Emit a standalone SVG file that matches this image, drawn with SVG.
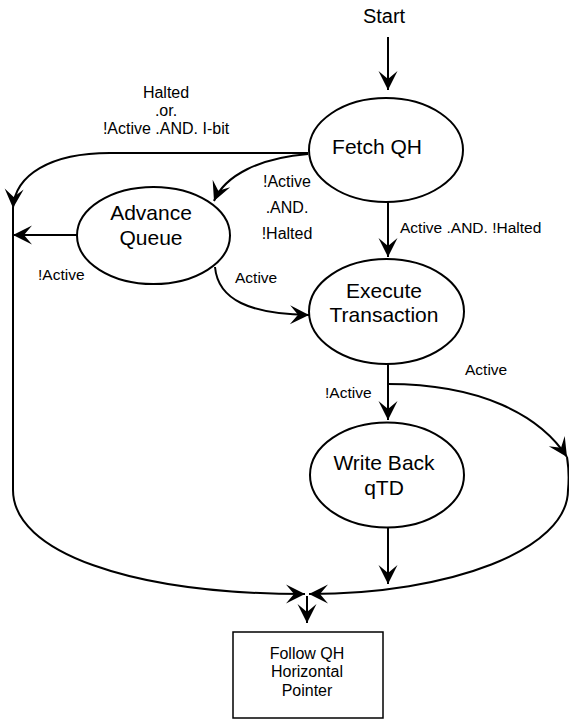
<svg xmlns="http://www.w3.org/2000/svg" width="569" height="719" viewBox="0 0 569 719">
<defs>
<style>
.node{fill:#fff;stroke:#000;stroke-width:2}
.box{fill:#fff;stroke:#000;stroke-width:1.5}
.edge{fill:none;stroke:#000;stroke-width:2}
.nt{font-family:"Liberation Sans",Arial,sans-serif;font-size:21px;fill:#000;text-anchor:middle}
.lt{font-family:"Liberation Sans",Arial,sans-serif;font-size:15.5px;fill:#000}
.bt{font-family:"Liberation Sans",Arial,sans-serif;font-size:16px;fill:#000;text-anchor:middle}
.st{font-family:"Liberation Sans",Arial,sans-serif;font-size:20px;fill:#000;text-anchor:middle}
</style>
<marker id="ah" viewBox="-20 -11 22 22" refX="0" refY="0" markerWidth="22" markerHeight="22" markerUnits="userSpaceOnUse" orient="auto">
<path d="M0,0 L-19,-9.5 L-11,0 L-19,9.5 Z" fill="#000"/>
</marker>
</defs>
<rect width="569" height="719" fill="#fff"/>

<g id="connectors">
<path class="edge" d="M388,37 L388,90" marker-end="url(#ah)"/>
<path class="edge" d="M388,202 L388,257" marker-end="url(#ah)"/>
<path class="edge" d="M308,153 L110,153 C50,153 15,175 13,208" marker-end="url(#ah)"/>
<path class="edge" d="M308,154 C260,158 225,175 214,201" marker-end="url(#ah)"/>
<path class="edge" d="M77,235 L13,235" marker-end="url(#ah)"/>
<path class="edge" d="M13,208 L13,490 C13,552 130,594 305,594" marker-end="url(#ah)"/>
<path class="edge" d="M215,267 C218,300 250,314 309,315" marker-end="url(#ah)"/>
<path class="edge" d="M388,364 L388,420" marker-end="url(#ah)"/>
<path class="edge" d="M388,384 C480,384 540,415 567,457" marker-end="url(#ah)"/>
<path class="edge" d="M567,457 C569,470 569,480 568,490 C568,550 450,594 309,594" marker-end="url(#ah)"/>
<path class="edge" d="M388,528 L388,584" marker-end="url(#ah)"/>
<path class="edge" d="M307,596 L307,623" marker-end="url(#ah)"/>
</g>

<g id="labels">
<text class="st" x="384" y="23">Start</text>
<text class="bt" x="166" y="98">Halted</text>
<text class="bt" x="166" y="116">.or.</text>
<text class="bt" x="166" y="134">!Active .AND. I-bit</text>
<text class="bt" x="287" y="187">!Active</text>
<text class="bt" x="287" y="213">.AND.</text>
<text class="bt" x="287" y="239">!Halted</text>
<text class="lt" x="400" y="233">Active .AND. !Halted</text>
<text class="lt" x="38" y="280">!Active</text>
<text class="lt" x="235" y="283">Active</text>
<text class="lt" x="465" y="375">Active</text>
<text class="lt" x="325" y="398">!Active</text>
</g>

<g id="fetch">
<ellipse class="node" cx="386" cy="150" rx="77" ry="52"/>
<text class="nt" x="377" y="154">Fetch QH</text>
</g>

<g id="advance">
<ellipse class="node" cx="153.5" cy="235.5" rx="76.5" ry="48.5"/>
<text class="nt" x="151" y="220">Advance</text>
<text class="nt" x="151" y="245">Queue</text>
</g>

<g id="execute">
<ellipse class="node" cx="386.5" cy="311.5" rx="77.5" ry="52.5"/>
<text class="nt" x="384" y="298">Execute</text>
<text class="nt" x="384" y="322">Transaction</text>
</g>

<g id="writeback">
<ellipse class="node" cx="387" cy="475" rx="77" ry="52.5"/>
<text class="nt" x="384" y="470">Write Back</text>
<text class="nt" x="384" y="495">qTD</text>
</g>

<g id="follow">
<rect class="box" x="233" y="632" width="150" height="86"/>
<text class="bt" x="307" y="659">Follow QH</text>
<text class="bt" x="307" y="677">Horizontal</text>
<text class="bt" x="307" y="696">Pointer</text>
</g>
</svg>
